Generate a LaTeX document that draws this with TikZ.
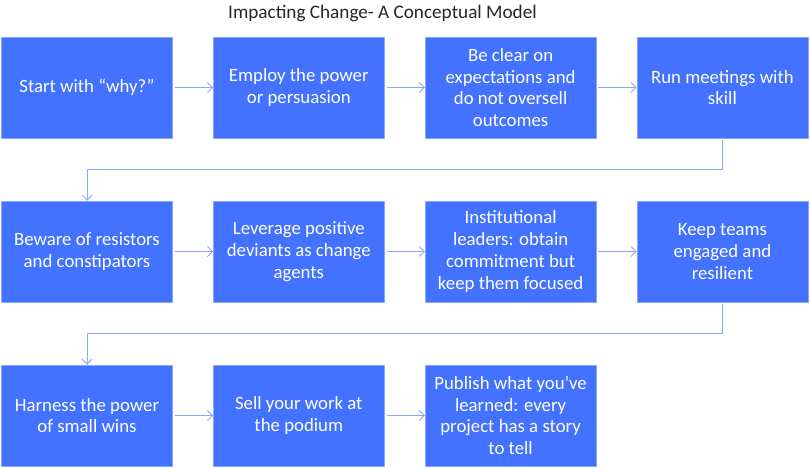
\documentclass[tikz,border=0pt]{standalone}
\usepackage{fontspec}
\setmainfont{Carlito}
\usetikzlibrary{arrows.meta}
\definecolor{boxblue}{RGB}{66,114,255}
\definecolor{boxedge}{RGB}{140,168,240}
\definecolor{linkblue}{RGB}{140,168,245}
\definecolor{titlegray}{RGB}{38,38,38}
\tikzset{
  stepbox/.style={rectangle, fill=boxblue, draw=boxedge, line width=0.5pt,
    minimum width=171pt, minimum height=101pt, inner sep=0pt,
    text=white, align=center,
    font=\fontsize{18.8}{21.7}\selectfont},
  link/.style={draw=linkblue, line width=0.9pt,
    -{Straight Barb[length=5pt,width=10pt,line width=0.9pt]}, shorten <=2pt}
}
\begin{document}
\begin{tikzpicture}[x=1pt,y=-1pt]
\useasboundingbox (0,0) rectangle (810,468);
\node[text=titlegray, font=\fontsize{19.2}{22}\selectfont] (title) at (382.5,13) {Impacting Change- A Conceptual Model};
% row 1
\node[stepbox] (b1) at (87,87.5) {Start with “why?”};
\node[stepbox] (b2) at (298.8,87.5) {Employ the power\\or persuasion};
\node[stepbox] (b3) at (510.6,87.5) {Be clear on\\expectations and\\do not oversell\\outcomes};
\node[stepbox] (b4) at (722.4,87.5) {Run meetings with\\skill};
% row 2
\node[stepbox] (b5) at (87,251.5) {Beware of resistors\\and constipators};
\node[stepbox] (b6) at (298.8,251.5) {Leverage positive\\deviants as change\\agents};
\node[stepbox] (b7) at (510.6,251.5) {Institutional\\leaders: obtain\\commitment but\\keep them focused};
\node[stepbox] (b8) at (722.4,251.5) {Keep teams\\engaged and\\resilient};
% row 3
\node[stepbox] (b9) at (87,415.5) {Harness the power\\of small wins};
\node[stepbox] (b10) at (298.8,415.5) {Sell your work at\\the podium};
\node[stepbox] (b11) at (510.6,415.5) {Publish what you’ve\\learned: every\\project has a story\\to tell};
% connectors
\draw[link] (b1) -- (b2);
\draw[link] (b2) -- (b3);
\draw[link] (b3) -- (b4);
\draw[link] (b4.south) -- ++(0,31) -| (b5.north);
\draw[link] (b5) -- (b6);
\draw[link] (b6) -- (b7);
\draw[link] (b7) -- (b8);
\draw[link] (b8.south) -- ++(0,31) -| (b9.north);
\draw[link] (b9) -- (b10);
\draw[link] (b10) -- (b11);
\end{tikzpicture}
\end{document}
